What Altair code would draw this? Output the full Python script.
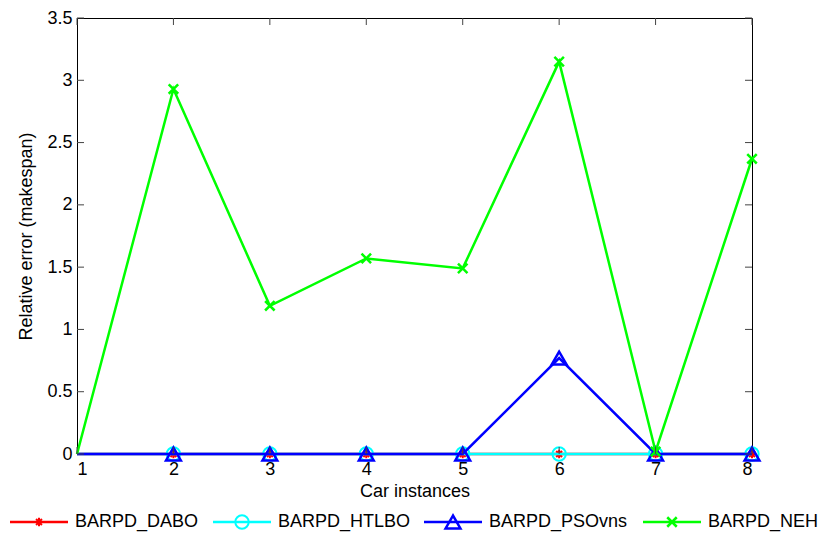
import altair as alt
import pandas as pd

instances = [1, 2, 3, 4, 5, 6, 7, 8]
series_names = ["BARPD_DABO", "BARPD_HTLBO", "BARPD_PSOvns", "BARPD_NEH"]
dabo = [0, 0, 0, 0, 0, 0, 0, 0]
htlbo = [0, 0, 0, 0, 0, 0, 0, 0]
psovns = [0, 0, 0, 0, 0, 0.77, 0, 0]
neh = [0, 2.93, 1.19, 1.57, 1.49, 3.15, 0.02, 2.37]
x_ticks = [1, 2, 3, 4, 5, 6, 7, 8]
y_ticks = [0, 0.5, 1, 1.5, 2, 2.5, 3, 3.5]

colors = ["#ff0000", "#00ffff", "#0000ff", "#00ff00"]
ASTERISK = "M-1,0L1,0M0,-1L0,1M-0.7,-0.7L0.7,0.7M-0.7,0.7L0.7,-0.7"
XSHAPE = "M-1,-1L1,1M-1,1L1,-1"
shapes = [ASTERISK, "circle", "triangle-up", XSHAPE]
sizes = [70, 180, 220, 90]
mstroke = [2, 2, 2.5, 2.5]

rows = []
for name, vals in zip(series_names, [dabo, htlbo, psovns, neh]):
    for x, v in zip(instances, vals):
        rows.append({"series": name, "instance": x, "value": v})
df = pd.DataFrame(rows)

FONT = "Liberation Sans"
FS = 18
W, H = 675, 436
xs = alt.Scale(domain=[1, 8], nice=False, zero=False)
ys = alt.Scale(domain=[0, 3.5], nice=False)

xaxis = alt.Axis(values=x_ticks, format="d", title="Car instances", labelFontSize=FS,
                 titleFontSize=FS, titleFontWeight="normal", ticks=False, domain=False,
                 grid=False, labelPadding=6, titlePadding=4, labelColor="black",
                 titleColor="black", labelFont=FONT, titleFont=FONT)
yaxis = alt.Axis(values=y_ticks, format=".1~f", title="Relative error (makespan)",
                 labelFontSize=FS, titleFontSize=FS, titleFontWeight="normal", ticks=False,
                 domain=False, grid=False, labelPadding=5, titlePadding=11,
                 labelColor="black", titleColor="black", labelFont=FONT, titleFont=FONT)

base = alt.Chart(df)
layers = []
for i, name in enumerate(series_names):
    sub = base.transform_filter(alt.datum.series == name)
    line = sub.mark_line(color=colors[i], strokeWidth=2.5).encode(
        x=alt.X("instance:Q", scale=xs, axis=xaxis),
        y=alt.Y("value:Q", scale=ys, axis=yaxis),
    )
    pts = sub.transform_filter(alt.datum.instance > 1).mark_point(
        shape=shapes[i], color=colors[i], size=sizes[i], strokeWidth=mstroke[i],
        filled=False, opacity=1
    ).encode(x=alt.X("instance:Q", scale=xs), y=alt.Y("value:Q", scale=ys))
    layers += [line, pts]

# inward ticks (MATLAB style)
xt = pd.DataFrame({"t": x_ticks})
yt = pd.DataFrame({"t": y_ticks})
tick_color = "#444444"
bt = alt.Chart(xt).mark_rule(color=tick_color, strokeWidth=1).encode(
    x=alt.X("t:Q", scale=xs), y=alt.value(H), y2=alt.value(H - 7))
tt = alt.Chart(xt).mark_rule(color=tick_color, strokeWidth=1).encode(
    x=alt.X("t:Q", scale=xs), y=alt.value(0), y2=alt.value(7))
lt = alt.Chart(yt).mark_rule(color=tick_color, strokeWidth=1).encode(
    y=alt.Y("t:Q", scale=ys), x=alt.value(0), x2=alt.value(7))
rt = alt.Chart(yt).mark_rule(color=tick_color, strokeWidth=1).encode(
    y=alt.Y("t:Q", scale=ys), x=alt.value(W), x2=alt.value(W - 7))

main = alt.layer(*layers, bt, tt, lt, rt).properties(
    width=W, height=H, view=alt.ViewBackground(stroke="black", strokeWidth=1))

# custom legend: item start positions derived from label lengths
leg = pd.DataFrame({"series": series_names})
leg["w"] = leg["series"].str.len() * 8 + 123
leg["pos"] = leg["w"].cumsum() - leg["w"]
ls = alt.Scale(domain=[0, 740], range=[-62, 678])
LY = 8
leg_layers = []
for i, name in enumerate(series_names):
    lb = alt.Chart(leg).transform_filter(alt.datum.series == name)
    r = lb.mark_rule(color=colors[i], strokeWidth=2.5, xOffset=-5, x2Offset=53).encode(
        x=alt.X("pos:Q", scale=ls, axis=None), x2="pos:Q", y=alt.value(LY))
    p = lb.mark_point(shape=shapes[i], color=colors[i], size=sizes[i], strokeWidth=mstroke[i],
                      filled=False, opacity=1, xOffset=24).encode(
        x=alt.X("pos:Q", scale=ls, axis=None), y=alt.value(LY))
    t = lb.mark_text(align="left", baseline="middle", fontSize=FS, font=FONT, color="black",
                     dx=60).encode(x=alt.X("pos:Q", scale=ls, axis=None), y=alt.value(LY),
                                   text="series:N")
    leg_layers += [r, p, t]
legend = alt.layer(*leg_layers).properties(
    width=W, height=16, view=alt.ViewBackground(stroke=None))

chart = alt.vconcat(main, legend, spacing=9).properties(
    padding={"left": 0, "top": 0, "right": 0, "bottom": 0})

chart.save("out.html", embed_options={"renderer": "svg", "actions": False})
